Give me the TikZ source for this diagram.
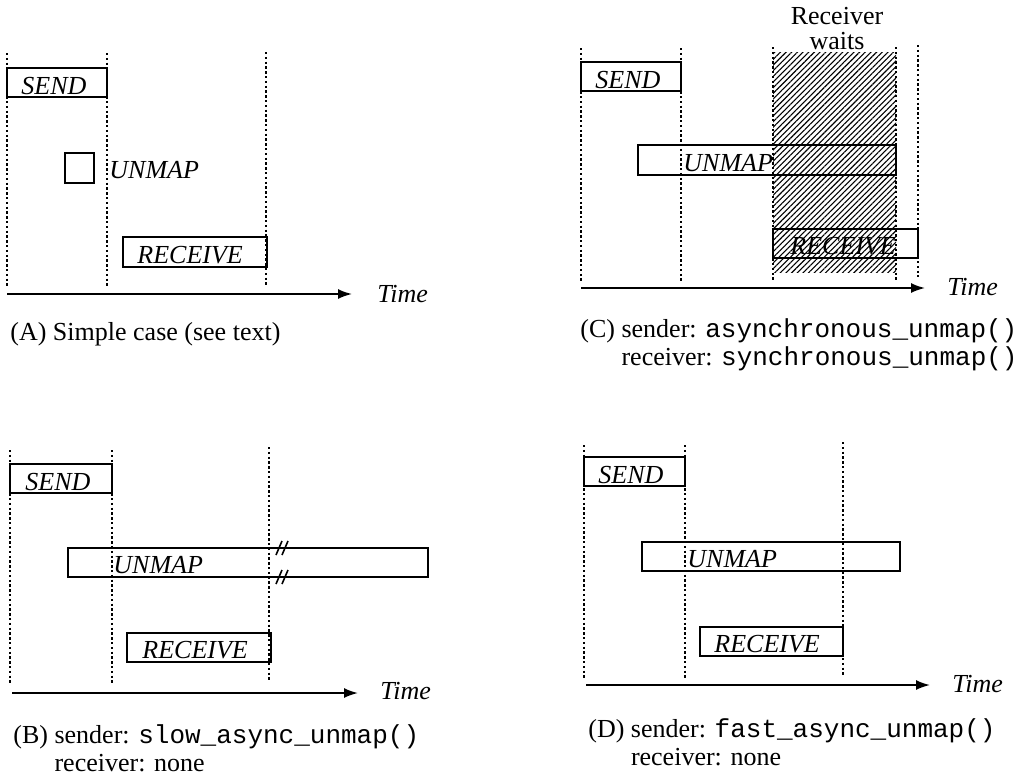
\documentclass[tikz,border=0pt]{standalone}
\usepackage{fontspec}
\setmainfont{Liberation Serif}
\setmonofont{Liberation Mono}
\usetikzlibrary{arrows.meta,patterns.meta}
\tikzset{>={Latex[length=7pt,width=5pt]}}
\tikzset{
	guide/.style={dash pattern=on 1.2pt off 1.2pt, line width=0.7pt},
	bar/.style={draw, line width=0.9pt},
	lbl/.style={anchor=base west, inner sep=0pt, font=\fontsize{13}{14}\selectfont\itshape},
	axis/.style={->, line width=0.9pt},
	caption/.style={anchor=base west, inner sep=0pt},
	wait/.style={pattern={Lines[angle=45,distance=2pt,line width=0.55pt]}}
}

\begin{document}
\begin{tikzpicture}[x=0.5pt, y=-0.5pt, font=\fontsize{13}{14}\selectfont]
	\useasboundingbox (0,0) rectangle (1028,776);

	% (A) simple case
	\foreach \x/\a/\b in {7/53/288, 107/53/288, 266/52/287}
		\draw[guide] (\x,\a) -- (\x,\b);
	\draw[bar] (7,68) rectangle (107,97);
	\draw[bar] (65,153) rectangle (94,183);
	\draw[bar] (123,237) rectangle (267,267);
	\node[lbl] (sendA) at (21,94) {SEND};
	\node[lbl] (unmapA) at (109,178) {UNMAP};
	\node[lbl] (recvA) at (137,263) {RECEIVE};
	\coordinate (startA) at (7,294);
	\node[lbl] (timeA) at (377,302) {Time};
	\draw[axis] (startA) -- (startA -| timeA.west) [shorten >=12.5pt];
	\node[caption] (capA) at (10,340) {(A) Simple case (see text)};

	% (B) slow asynchronous unmap
	\foreach \x/\a/\b in {10/450/685, 112/450/685, 269/447/682}
		\draw[guide] (\x,\a) -- (\x,\b);
	\draw[bar] (10,464) rectangle (112,493);
	\draw[bar] (68,548) rectangle (428,577);
	\draw[bar] (127,633) rectangle (271,662);
	\foreach \y in {548,577}
		\foreach \dx in {0,6}
			\draw[line width=0.8pt] (276+\dx,\y+7) -- (282+\dx,\y-7);
	\node[lbl] (sendB) at (25,490) {SEND};
	\node[lbl] (unmapB) at (113,573) {UNMAP};
	\node[lbl] (recvB) at (142,658) {RECEIVE};
	\coordinate (startB) at (12,693);
	\node[lbl] (timeB) at (380,699) {Time};
	\draw[axis] (startB) -- (startB -| timeB.west) [shorten >=11pt];
	\node[caption] (capB) at (13,743) {\begin{tabular}[t]{@{}l@{ }l@{}}(B) & sender: \texttt{slow\_async\_unmap()}\\ & receiver: none\end{tabular}};

	% (C) asynchronous sender, synchronous receiver
	\path[wait] (773,52) rectangle (896,272);
	\foreach \x/\a/\b in {581/48/282, 681/48/282, 773/47/282, 896/47/282, 918/45/277}
		\draw[guide] (\x,\a) -- (\x,\b);
	\draw[bar] (581,62) rectangle (681,91);
	\draw[bar] (638,145) rectangle (896,175);
	\draw[bar] (773,229) rectangle (918,258);
	\node[lbl] (sendC) at (595,88) {SEND};
	\node[lbl] (unmapC) at (683,171) {UNMAP};
	\node[lbl] (recvC) at (790,254) {RECEIVE};
	\node[anchor=south, inner sep=0pt, align=center, font=\fontsize{13}{12.5}\selectfont] (waits) at (837,50) {Receiver\\waits};
	\coordinate (startC) at (581,288);
	\node[lbl] (timeC) at (947,295) {Time};
	\draw[axis] (startC) -- (startC -| timeC.west) [shorten >=11pt];
	\node[caption] (capC) at (580,337) {\begin{tabular}[t]{@{}l@{ }l@{}}(C) & sender: \texttt{asynchronous\_unmap()}\\ & receiver: \texttt{synchronous\_unmap()}\end{tabular}};

	% (D) fast asynchronous unmap
	\foreach \x/\a/\b in {584/445/678, 685/445/678, 843/442/675}
		\draw[guide] (\x,\a) -- (\x,\b);
	\draw[bar] (584,457) rectangle (685,486);
	\draw[bar] (642,542) rectangle (900,571);
	\draw[bar] (700,627) rectangle (843,656);
	\node[lbl] (sendD) at (598,483) {SEND};
	\node[lbl] (unmapD) at (687,567) {UNMAP};
	\node[lbl] (recvD) at (714,652) {RECEIVE};
	\coordinate (startD) at (586,685);
	\node[lbl] (timeD) at (952,692) {Time};
	\draw[axis] (startD) -- (startD -| timeD.west) [shorten >=11pt];
	\node[caption] (capD) at (588,737) {\begin{tabular}[t]{@{}l@{ }l@{}}(D) & sender: \texttt{fast\_async\_unmap()}\\ & receiver: none\end{tabular}};
\end{tikzpicture}
\end{document}
